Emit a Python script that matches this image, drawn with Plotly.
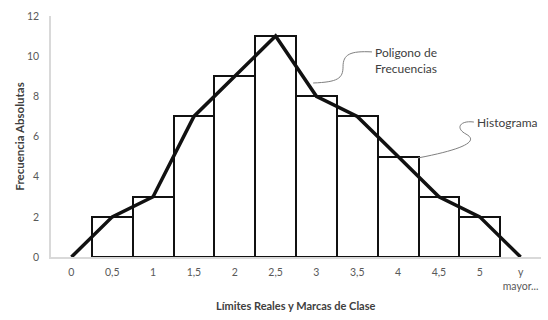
import plotly.graph_objects as go

categories = ["0", "0,5", "1", "1,5", "2", "2,5", "3", "3,5", "4", "4,5", "5", "y<br>mayor..."]
frequencies = [0, 2, 3, 7, 9, 11, 8, 7, 5, 3, 2, 0]
y_ticks = [0, 2, 4, 6, 8, 10, 12]

bar_values = [v if v > 0 else None for v in frequencies]

FONT = "Lato"
TXT = "#595959"
DARK = "#404040"

fig = go.Figure()
fig.add_trace(go.Bar(
    x=categories, y=bar_values,
    marker=dict(color="white", line=dict(color="#111111", width=2)),
    width=1.0, showlegend=False, hoverinfo="skip",
))
fig.add_trace(go.Scatter(
    x=categories, y=frequencies, mode="lines",
    line=dict(color="#111111", width=3.5), showlegend=False,
))

# callout curves (paper coords)
fig.add_shape(type="path", xref="paper", yref="paper",
              path="M 0.655,0.851 C 0.61,0.856 0.596,0.84 0.596,0.79 S 0.585,0.726 0.535,0.722",
              line=dict(color="#7f7f7f", width=1))
fig.add_shape(type="path", xref="paper", yref="paper",
              path="M 0.863,0.560 C 0.835,0.568 0.824,0.535 0.847,0.510 S 0.855,0.452 0.749,0.411",
              line=dict(color="#7f7f7f", width=1))

fig.add_annotation(x=0.657, y=0.815, xref="paper", yref="paper", xanchor="left", yanchor="middle",
                   text="Poligono de<br>Frecuencias", showarrow=False, align="left",
                   font=dict(family=FONT, size=12, color=DARK))
fig.add_annotation(x=0.865, y=0.560, xref="paper", yref="paper", xanchor="left", yanchor="middle",
                   text="Histograma", showarrow=False, align="left",
                   font=dict(family=FONT, size=12, color=DARK))

# axis titles as annotations for precise placement
fig.add_annotation(x=0.5, y=-0.2, xref="paper", yref="paper", xanchor="center", yanchor="middle",
                   text="<b>Límites Reales y Marcas de Clase</b>", showarrow=False,
                   font=dict(family=FONT, size=11, color=DARK))
fig.add_annotation(x=-0.065, y=0.5, xref="paper", yref="paper", xanchor="center", yanchor="middle",
                   text="<b>Frecuencia Absolutas</b>", showarrow=False, textangle=-90,
                   font=dict(family=FONT, size=11.5, color=DARK))

fig.update_layout(
    width=548, height=320,
    margin=dict(l=51, r=7, t=16, b=63),
    paper_bgcolor="white", plot_bgcolor="white",
    bargap=0,
    font=dict(family=FONT, size=10, color=TXT),
    xaxis=dict(type="category", range=[-0.5, 11.5], showgrid=False, showline=True, automargin=False,
               linecolor="#d9d9d9", linewidth=1.5, ticks="outside", ticklen=5, tickcolor="rgba(0,0,0,0)",
               tickfont=dict(family=FONT, size=10.5, color=TXT)),
    yaxis=dict(range=[0, 12], tickvals=y_ticks, showgrid=False, zeroline=False, showline=True, automargin=False,
               linecolor="#d9d9d9", linewidth=1.5, ticks="outside", ticklen=8, tickcolor="rgba(0,0,0,0)",
               tickfont=dict(family=FONT, size=10.5, color=TXT)),
)

fig.write_html("out.html", config={"displayModeBar": False},
               post_script="document.body.style.margin='0';document.body.style.overflow='hidden';")
